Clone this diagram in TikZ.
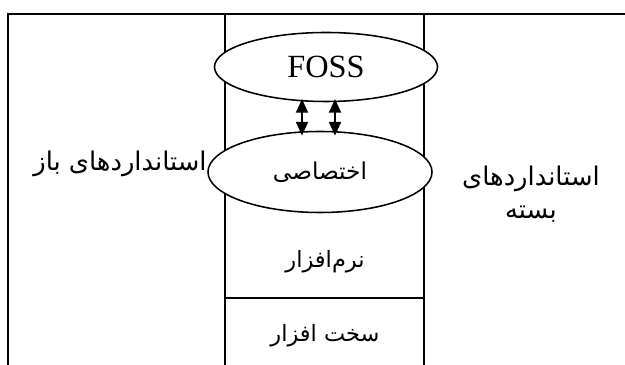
\documentclass[tikz,border=0pt]{standalone}
\usepackage{fontspec}
\setmainfont{Liberation Serif}
\newfontfamily\farsi[Script=Arabic]{DejaVu Sans}
\TeXXeTstate=1
\usetikzlibrary{shapes.geometric,arrows.meta}

\tikzset{
  frameline/.style={line width=1.4pt},
  layer/.style={ellipse, draw, fill=white, line width=1.1pt, inner sep=0pt},
  fatext/.style={font=\farsi\fontsize{18.3}{24}\selectfont, align=center},
  coltext/.style={font=\farsi\fontsize{16}{20}\selectfont},
  smalltext/.style={font=\farsi\fontsize{16.5}{20}\selectfont},
  link/.style={line width=1.3pt, shorten <=-0.08cm, shorten >=-0.12cm,
    {Triangle[length=0.34cm,width=0.3cm]}-{Triangle[length=0.34cm,width=0.3cm]}}
}

\begin{document}
\begin{tikzpicture}[x=0.025cm,y=-0.025cm]
\useasboundingbox (0,0) rectangle (625,365);

% frame and column
\draw[frameline] (8,365) -- (8,14) -- (625,14);
\draw[frameline] (225,14) -- (225,365);
\draw[frameline] (424,14) -- (424,365);
\draw[frameline] (225,298) -- (424,298);

% the two layers
\node[layer, minimum width=5.575cm, minimum height=1.725cm] (foss) at (326,67)
  {\fontsize{23}{26}\selectfont FOSS};
\node[layer, minimum width=5.6cm, minimum height=2.025cm] (prop) at (320,172)
  {};
\node[smalltext] (proptext) at (prop.center) {\beginR اختصاصی\endR};

% links
\coordinate (linka) at (302,0);
\coordinate (linkb) at (335,0);
\draw[link] (linka |- foss.south) -- (linka |- prop.north);
\draw[link] (linkb |- foss.south) -- (linkb |- prop.north);

% texts
\node[fatext] (open) at (120,164) {\beginR استانداردهای باز\endR};
\node[fatext] (closed) at (531,194) {\beginR استانداردهای\endR\\\beginR بسته\endR};
\node[coltext] (soft) at (325,262) {\beginR نرم‌افزار\endR};
\node[coltext] (hard) at (325,336) {\beginR سخت افزار\endR};
\end{tikzpicture}
\end{document}
